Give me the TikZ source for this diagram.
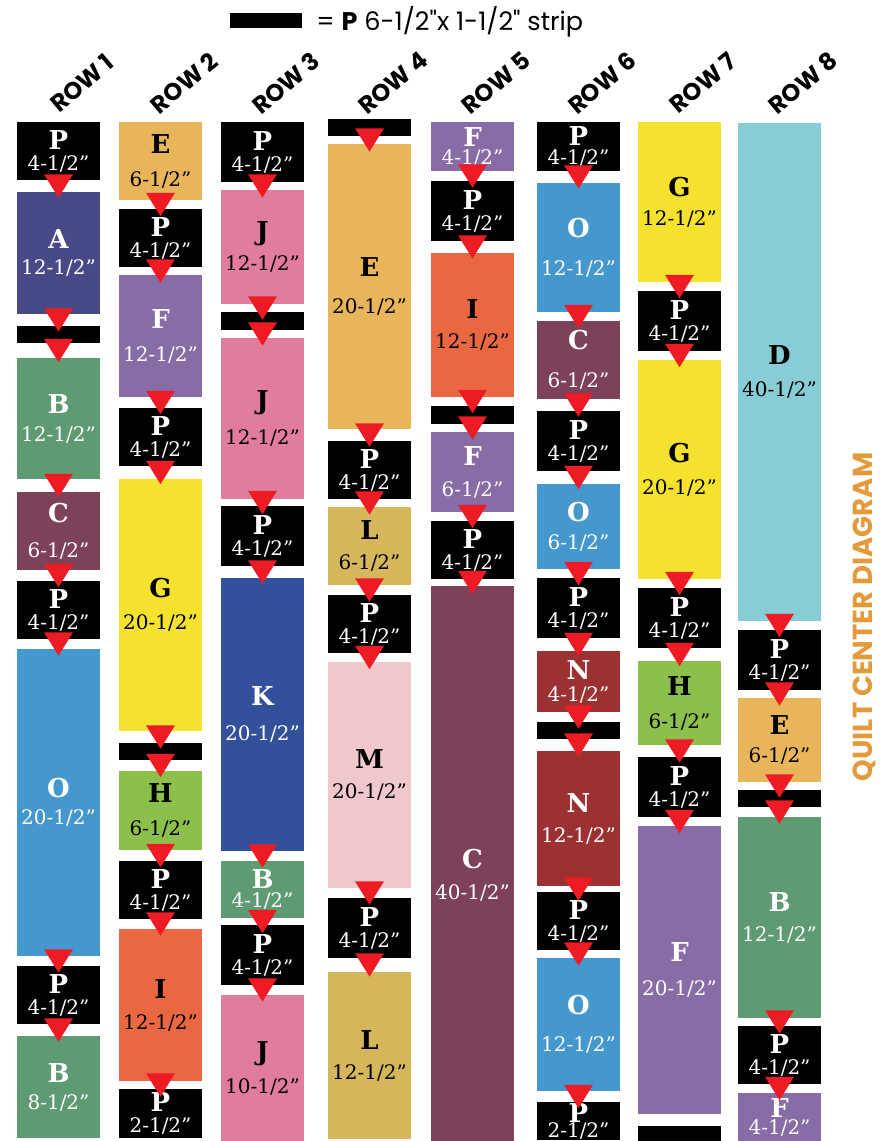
\documentclass[tikz,border=0pt]{standalone}
\usepackage{fontspec}
\setmainfont{DejaVu Serif}
\newfontfamily\headfont{Poppins}
\usetikzlibrary{calc,positioning}
\pgfdeclarelayer{front}
\pgfsetlayers{main,front}

\definecolor{fabA}{HTML}{474A86}
\definecolor{fabB}{HTML}{5E9B73}
\definecolor{fabC}{HTML}{7E415A}
\definecolor{fabD}{HTML}{88CCD5}
\definecolor{fabE}{HTML}{E8B55B}
\definecolor{fabF}{HTML}{886CA6}
\definecolor{fabG}{HTML}{F4E22F}
\definecolor{fabH}{HTML}{8DC04B}
\definecolor{fabI}{HTML}{EA6841}
\definecolor{fabJ}{HTML}{E27C9D}
\definecolor{fabK}{HTML}{33509A}
\definecolor{fabL}{HTML}{D6B65B}
\definecolor{fabM}{HTML}{F0C8CB}
\definecolor{fabN}{HTML}{9C3132}
\definecolor{fabO}{HTML}{4598CE}
\definecolor{notchred}{HTML}{ED1C24}
\definecolor{titleorange}{HTML}{E49A3A}

% letter over finished length; a size of 0 means a plain strip
\newcommand\cutlabel[2]{\ifnum#2=0 \else{\fontsize{26}{26}\selectfont\bfseries #1}\\#2-1/2”\fi}

\begin{document}
\begin{tikzpicture}[x=1pt, y=-1pt,
  cut/.style={rectangle, inner sep=0pt, outer sep=0pt, minimum width=83pt, align=center},
  fab P/.style={fill=black, text=white},
  fab S/.style={fill=black},
  fab A/.style={fill=fabA, text=white},
  fab B/.style={fill=fabB, text=white},
  fab C/.style={fill=fabC, text=white},
  fab D/.style={fill=fabD, text=black},
  fab E/.style={fill=fabE, text=black},
  fab F/.style={fill=fabF, text=white},
  fab G/.style={fill=fabG, text=black},
  fab H/.style={fill=fabH, text=black},
  fab I/.style={fill=fabI, text=black},
  fab J/.style={fill=fabJ, text=black},
  fab K/.style={fill=fabK, text=white},
  fab L/.style={fill=fabL, text=black},
  fab M/.style={fill=fabM, text=black},
  fab N/.style={fill=fabN, text=white},
  fab O/.style={fill=fabO, text=white},
  notch/.style={fill=notchred},
  rowlab/.style={inner sep=0pt, rotate=40, font=\headfont\fontsize{24}{24}\selectfont\bfseries},
  headline/.style={inner sep=0pt, rotate=90, text=titleorange, font=\headfont\fontsize{27.5}{27.5}\selectfont\bfseries},
]
  \useasboundingbox (0,0) rectangle (880,1141);

  % legend
  \node[fill=black, minimum width=72pt, minimum height=15pt, inner sep=0pt] (keybox) at (266,20.5) {};
  \node[anchor=base west, inner sep=0pt, font=\headfont\fontsize{25.5}{25.5}\selectfont] (keytext)
    at ([xshift=14pt, yshift=-2pt]keybox.south east) {= \textbf{P} 6-1/2"x 1-1/2" strip};

  % columns: top/bottom/letter/size/line skip
  \foreach \c/\x/\cuts in {
    1/17/{122/180/P/4/21, 192/314/A/12/26, 326/343/S/0/0, 358/479/B/12/28, 492/570/C/6/35,
          581/639/P/4/21, 649/956/O/20/27, 966/1024/P/4/21, 1036/1138/B/8/27},
    2/119/{122/200/E/6/33, 209/267/P/4/21, 275/397/F/12/33, 408/466/P/4/21, 479/731/G/20/32,
           743/760/S/0/0, 771/850/H/6/33, 861/919/P/4/21, 929/1081/I/12/31, 1089/1138/P/2/21},
    3/221/{122/182/P/4/21, 190/304/J/12/30, 312/330/S/0/0, 338/499/J/12/35, 506/566/P/4/21,
           578/851/K/20/35, 861/918/B/4/19, 925/985/P/4/21, 995/1141/J/10/33},
    4/328/{119/136/S/0/0, 144/429/E/20/37, 441/499/P/4/21, 507/585/L/6/30, 595/653/P/4/21,
           662/888/M/20/30, 898/958/P/4/21, 972/1139/L/12/30},
    5/431/{122/171/F/4/18, 181/241/P/4/21, 253/397/I/12/30, 406/424/S/0/0, 432/512/F/6/31,
           521/579/P/4/21, 586/1165/C/40/31},
    6/537/{122/171/P/4/19, 183/312/O/12/38, 321/399/C/6/38, 411/471/P/4/21, 484/569/O/6/28,
           578/638/P/4/21, 651/712/N/4/22, 722/739/S/0/0, 751/886/N/12/30, 892/950/P/4/21,
           958/1091/O/12/37, 1102/1140/P/2/15},
    7/638/{122/282/G/12/29, 291/351/P/4/21, 360/579/G/20/32, 588/648/P/4/21, 661/745/H/6/33,
           757/817/P/4/21, 826/1114/F/20/34},
    8/738/{123/621/D/40/32, 630/690/P/4/21, 698/782/E/6/28, 790/807/S/0/0, 817/1018/B/12/30,
           1026/1084/P/4/21, 1093/1141/F/4/17}} {
    \node[rowlab] (row\c) at (\x+65,83) {ROW \c};
    \foreach \t/\b/\l/\s/\k [count=\i] in \cuts {
      \pgfmathsetmacro\ym{(\t+\b)/2}
      \pgfmathsetmacro\hh{\b-\t}
      \node[cut, fab \l, minimum height=\hh pt, font=\fontsize{20}{\k}\selectfont] (c\c-\i) at (\x+41.5,\ym) {\cutlabel{\l}{\s}};
      \ifnum\i>1
        \pgfmathtruncatemacro\j{\i-1}
        \begin{pgfonlayer}{front}
          \coordinate (gap) at ($(c\c-\j.south)!0.5!(c\c-\i.north)$);
          \fill[notch] ($(gap)+(-14.5,-11.7)$) -- ($(gap)+(14.5,-11.7)$) -- ($(gap)+(0,11.7)$) -- cycle;
        \end{pgfonlayer}
      \fi
    }
  }
  % strip running off the foot of row 7
  \node[cut, fab S, minimum height=17pt] (c7-8) at (679.5,1134.5) {};

  \node[headline] (quilt) at (864,617) {QUILT CENTER DIAGRAM};
\end{tikzpicture}
\end{document}
